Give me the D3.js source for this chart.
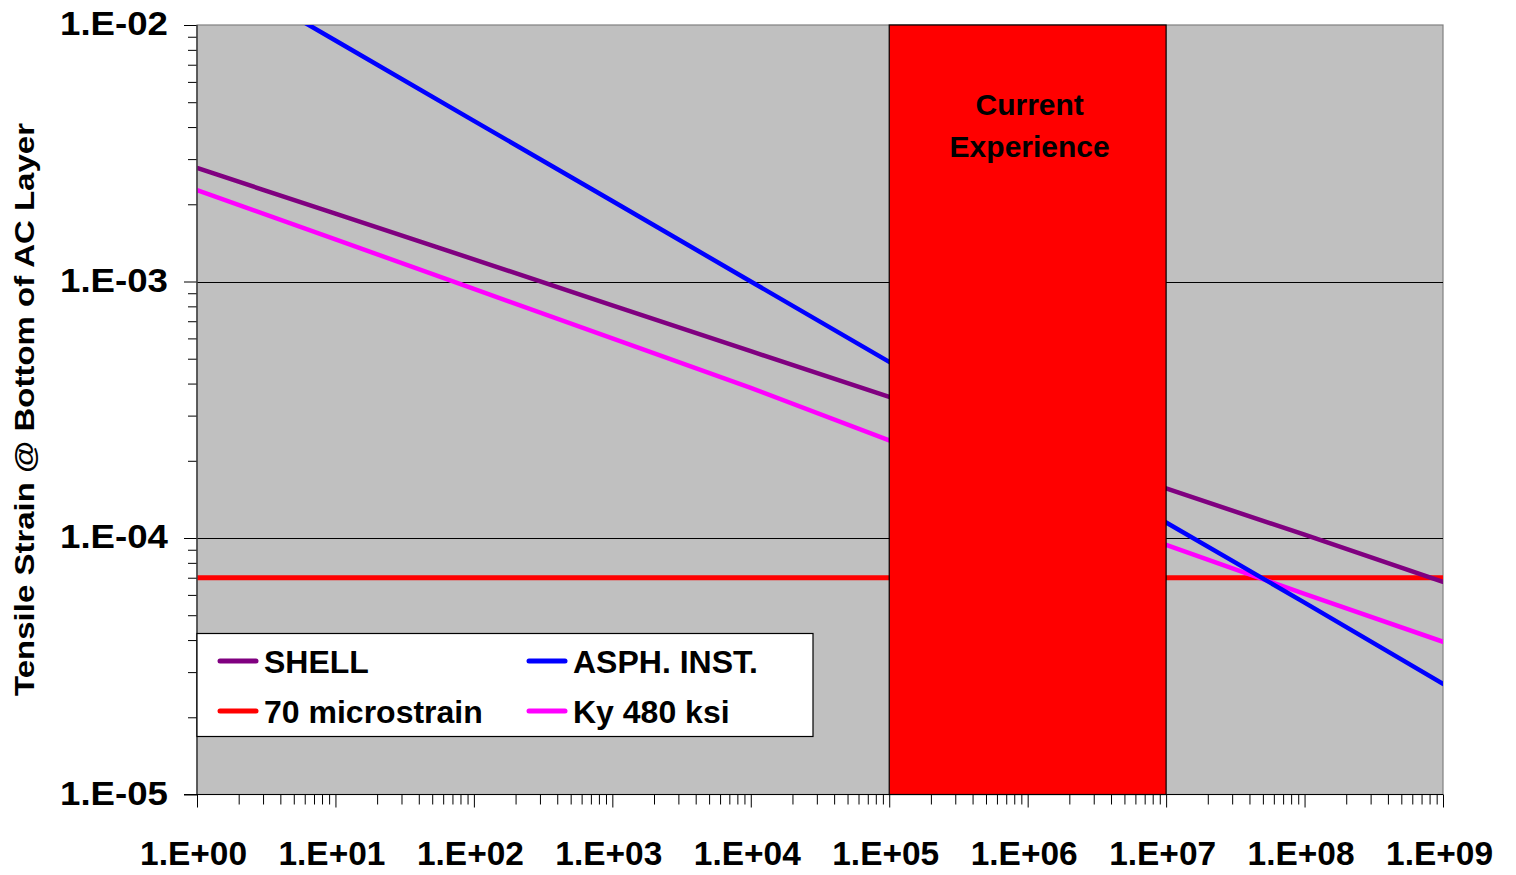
<!DOCTYPE html>
<html>
<head>
<meta charset="utf-8">
<script src="https://cdn.jsdelivr.net/npm/d3@7"></script>
<style>
  html, body { margin: 0; padding: 0; background: #fff; }
  svg text { font-family: "Liberation Sans", Arial, sans-serif; font-weight: bold; }
</style>
</head>
<body>
<svg id="chart" width="1516" height="875"></svg>
<script>
// Load repetitions N (decades) and tensile strain for each fatigue criterion
const repetitions = [1e0, 1e1, 1e2, 1e3, 1e4, 1e5, 1e6, 1e7, 1e8, 1e9];
const shell       = [2.77e-3, 1.84e-3, 1.22e-3, 8.07e-4, 5.35e-4, 3.55e-4, 2.35e-4, 1.56e-4, 1.03e-4, 6.75e-5];
const asphInst    = [1.79e-2, 8.7e-3, 4.23e-3, 2.06e-3, 1.0e-3, 4.86e-4, 2.36e-4, 1.15e-4, 5.6e-5, 2.7e-5];
const ky480       = [2.27e-3, 1.46e-3, 9.35e-4, 6.0e-4, 3.85e-4, 2.4e-4, 1.5e-4, 9.4e-5, 6.05e-5, 3.94e-5];
const micro70     = [7e-5, 7e-5, 7e-5, 7e-5, 7e-5, 7e-5, 7e-5, 7e-5, 7e-5, 7e-5];

const seriesNames  = ["SHELL", "ASPH. INST.", "70 microstrain", "Ky 480 ksi"];
const seriesColors = ["#800080", "#0000FF", "#FF0000", "#FF00FF"];

// Band of current field experience (repetitions)
const experienceRange = [1e5, 1e7];
const experienceLabel = ["Current", "Experience"];

const xTickValues = [1e0, 1e1, 1e2, 1e3, 1e4, 1e5, 1e6, 1e7, 1e8, 1e9];
const xTickLabels = ["1.E+00", "1.E+01", "1.E+02", "1.E+03", "1.E+04", "1.E+05", "1.E+06", "1.E+07", "1.E+08", "1.E+09"];
const yTickValues = [1e-5, 1e-4, 1e-3, 1e-2];
const yTickLabels = ["1.E-05", "1.E-04", "1.E-03", "1.E-02"];
const yTitle = "Tensile Strain @ Bottom of AC Layer";

const svg = d3.select("#chart");
const plot = { left: 197, right: 1443, top: 25, bottom: 794.5 };

const x = d3.scaleLog().domain([1e0, 1e9]).range([plot.left, plot.right]);
const y = d3.scaleLog().domain([1e-5, 1e-2]).range([plot.bottom, plot.top]);

// minor tick positions (2..9 within each decade)
const minorX = [], minorY = [];
for (let e = 0; e < 9; e++) for (let k = 2; k <= 9; k++) minorX.push(k * Math.pow(10, e));
for (let e = -5; e < -2; e++) for (let k = 2; k <= 9; k++) minorY.push(k * Math.pow(10, e));

svg.append("defs").append("clipPath").attr("id", "plotClip")
  .append("rect")
  .attr("x", plot.left).attr("y", plot.top)
  .attr("width", plot.right - plot.left).attr("height", plot.bottom - plot.top);

// plot background
svg.append("rect")
  .attr("x", plot.left).attr("y", plot.top)
  .attr("width", plot.right - plot.left).attr("height", plot.bottom - plot.top)
  .attr("fill", "#C0C0C0").attr("stroke", "#808080").attr("stroke-width", 1.2);

// horizontal gridlines at decades
svg.append("g").selectAll("line")
  .data(yTickValues.filter(v => v > 1e-5 && v < 1e-2))
  .join("line")
  .attr("x1", plot.left).attr("x2", plot.right)
  .attr("y1", d => Math.round(y(d)) + 0.5).attr("y2", d => Math.round(y(d)) + 0.5)
  .attr("stroke", "#000").attr("stroke-width", 1);

// series lines
const seriesData = [shell, asphInst, micro70, ky480];
const line = d3.line().x((d, i) => x(repetitions[i])).y(d => y(d));
const lineG = svg.append("g").attr("clip-path", "url(#plotClip)");
// draw order: limit line beneath the criteria
[2, 0, 3, 1].forEach(i => {
  lineG.append("path")
    .datum(seriesData[i])
    .attr("d", line)
    .attr("fill", "none")
    .attr("stroke", seriesColors[i])
    .attr("stroke-width", i === 2 ? 5 : 4.5)
    .attr("stroke-linecap", "round");
});

// current experience band
const band = svg.append("g");
band.append("rect")
  .attr("x", x(experienceRange[0]))
  .attr("y", plot.top)
  .attr("width", x(experienceRange[1]) - x(experienceRange[0]))
  .attr("height", plot.bottom - plot.top)
  .attr("fill", "#FF0000").attr("stroke", "#000").attr("stroke-width", 1.2);
const bandCx = (x(experienceRange[0]) + x(experienceRange[1])) / 2 + 2;
band.selectAll("text").data(experienceLabel).join("text")
  .attr("x", bandCx)
  .attr("y", (d, i) => 115 + i * 41.5)
  .attr("text-anchor", "middle")
  .attr("font-size", 30)
  .attr("fill", "#000")
  .text(d => d);

// y axis: minor and major ticks
const yAxisG = svg.append("g").attr("transform", `translate(${plot.left},0)`);
yAxisG.call(d3.axisLeft(y).tickValues(minorY).tickSize(9).tickFormat(""));
yAxisG.call(g => g.select(".domain").remove());
const yMajor = svg.append("g").attr("transform", `translate(${plot.left},0)`)
  .call(d3.axisLeft(y).tickValues(yTickValues).tickSize(13).tickPadding(16)
    .tickFormat((d, i) => yTickLabels[i]));
yMajor.select(".domain").remove();
yMajor.selectAll("text").attr("font-size", 33).attr("fill", "#000")
  .attr("font-family", "Liberation Sans, Arial, sans-serif").attr("font-weight", "bold")
  .attr("dy", "0.3em")
  .attr("textLength", 108).attr("lengthAdjust", "spacingAndGlyphs");

// x axis: minor and major ticks
const xMinor = svg.append("g").attr("transform", `translate(0,${plot.bottom})`)
  .call(d3.axisBottom(x).tickValues(minorX.filter(v => v < 1e9)).tickSize(10).tickFormat(""));
xMinor.select(".domain").remove();
const xMajor = svg.append("g").attr("transform", `translate(0,${plot.bottom})`)
  .call(d3.axisBottom(x).tickValues(xTickValues).tickSize(13).tickPadding(34)
    .tickFormat((d, i) => xTickLabels[i]));
xMajor.select(".domain").remove();
xMajor.selectAll("text").attr("font-size", 33).attr("fill", "#000")
  .attr("font-family", "Liberation Sans, Arial, sans-serif").attr("font-weight", "bold")
  .attr("dy", "0.71em").attr("dx", -4)
  .attr("textLength", 107).attr("lengthAdjust", "spacingAndGlyphs");
svg.selectAll(".tick line").attr("stroke", "#000").attr("stroke-width", 1);

// axis lines
svg.append("line")
  .attr("x1", plot.left).attr("x2", plot.left).attr("y1", plot.top).attr("y2", plot.bottom)
  .attr("stroke", "#404040").attr("stroke-width", 1.5);
svg.append("line")
  .attr("x1", plot.left - 13).attr("x2", plot.right).attr("y1", plot.bottom).attr("y2", plot.bottom)
  .attr("stroke", "#000").attr("stroke-width", 1.2);

// y axis title
svg.append("text")
  .attr("transform", `translate(34,409.5) rotate(-90)`)
  .attr("text-anchor", "middle")
  .attr("font-size", 27)
  .attr("fill", "#000")
  .attr("textLength", 573).attr("lengthAdjust", "spacingAndGlyphs")
  .text(yTitle);

// legend
const legend = svg.append("g");
legend.append("rect")
  .attr("x", 197).attr("y", 633.5).attr("width", 616).attr("height", 103)
  .attr("fill", "#FFF").attr("stroke", "#000").attr("stroke-width", 1.2);
const legendPos = [[218, 661], [527, 661], [218, 711], [527, 711]];
seriesNames.forEach((name, i) => {
  const [lx, ly] = legendPos[i];
  legend.append("line")
    .attr("x1", lx + 2).attr("x2", lx + 38).attr("y1", ly).attr("y2", ly)
    .attr("stroke", seriesColors[i]).attr("stroke-width", 5).attr("stroke-linecap", "round");
  legend.append("text")
    .attr("x", lx + 46).attr("y", ly + 12)
    .attr("font-size", 32)
    .attr("fill", "#000")
    .text(name);
});
</script>
</body>
</html>
